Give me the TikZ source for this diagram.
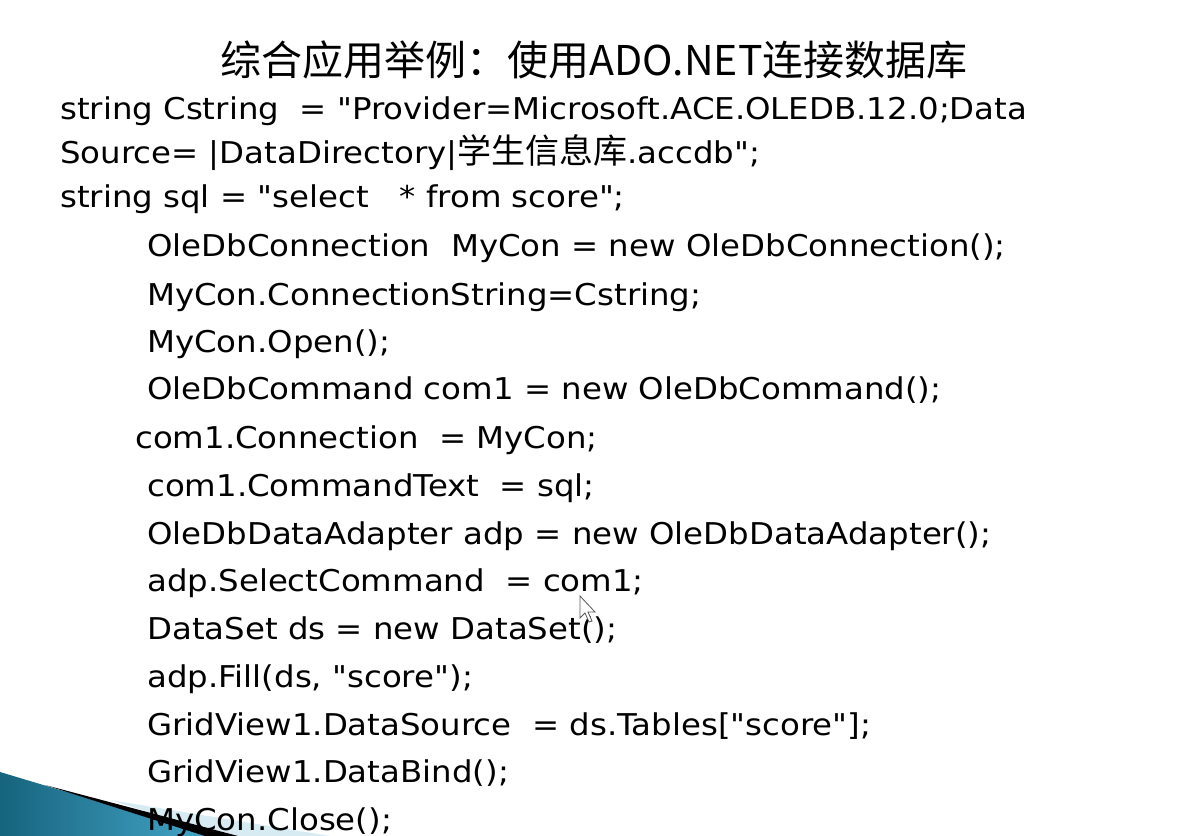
\documentclass[tikz,border=0pt]{standalone}
\usepackage{fontspec}
\setmonofont{DejaVu Sans}[FakeStretch=1.08]
\newfontfamily\cjk{Noto Sans CJK SC}
\definecolor{tealdark}{RGB}{22,100,126}
\definecolor{teallight}{RGB}{72,170,205}
\definecolor{palecyan}{RGB}{205,230,240}
\begin{document}
\begin{tikzpicture}[x=1bp,y=-1bp,
  code/.style={anchor=base west, inner sep=0pt, font=\ttfamily\fontsize{30bp}{36bp}\selectfont},
  titlestyle/.style={anchor=center, inner sep=0pt, font=\cjk\fontsize{41bp}{48bp}\selectfont}]
\useasboundingbox (0,0) rectangle (1187,836);
\fill[white] (0,0) rectangle (1187,836);
% swoosh
\shade[left color=tealdark, right color=teallight] (0,772) -- (60,790) -- (225,836) -- (0,836) -- cycle;
\fill[palecyan, opacity=0.8] (110,800) -- (330,836) -- (225,836) -- cycle;
\fill[black] (45,785) -- (238,836) -- (205,836) -- cycle;
% title
\node[titlestyle] (title) at (594,60) {综合应用举例：使用ADO.NET连接数据库};
% code
\node[code] (l1) at (60,119) {string Cstring\ \ = "Provider=Microsoft.ACE.OLEDB.12.0;Data};
\node[code] (l2) at (60,163) {Source=\ |DataDirectory|{\cjk\fontsize{34bp}{36bp}\selectfont 学生信息库}.accdb";};
\node[code] (l3) at (60,207) {string sql = "select\ \ \ * from score";};
\node[code] (l4) at (147,256) {OleDbConnection\ \ MyCon = new OleDbConnection();};
\node[code] (l5) at (147,305) {MyCon.ConnectionString=Cstring;};
\node[code] (l6) at (147,352) {MyCon.Open();};
\node[code] (l7) at (147,399) {OleDbCommand com1 = new OleDbCommand();};
\node[code] (l8) at (135,448) {com1.Connection\ \ = MyCon;};
\node[code] (l9) at (147,496) {com1.CommandText\ \ = sql;};
\node[code] (l10) at (147,544) {OleDbDataAdapter adp = new OleDbDataAdapter();};
\node[code] (l11) at (147,591) {adp.SelectCommand\ \ = com1;};
\node[code] (l12) at (147,639) {DataSet ds = new DataSet();};
\node[code] (l13) at (147,687) {adp.Fill(ds, "score");};
\node[code] (l14) at (147,735) {GridView1.DataSource\ \ = ds.Tables["score"];};
\node[code] (l15) at (147,782) {GridView1.DataBind();};
\node[code] (l16) at (147,830) {MyCon.Close();};
% cursor
\filldraw[fill=white, draw=gray!70!black, line width=0.8bp] (580,596) -- (580,618) -- (585,613) -- (589,622) -- (592,621) -- (588,612) -- (595,612) -- cycle;
\end{tikzpicture}
\end{document}
